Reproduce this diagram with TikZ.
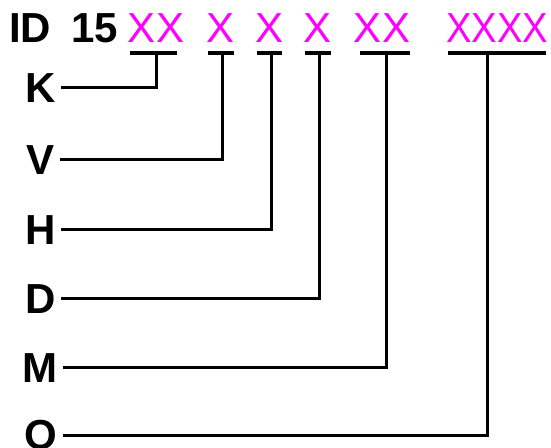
\documentclass[tikz,border=0pt]{standalone}
\usepackage{fontspec}
\setmainfont{Liberation Sans}
\usepackage{xcolor}
\definecolor{vpink}{RGB}{255,0,255}
\tikzset{
  codepart/.style={inner sep=0pt,anchor=base,text=vpink,font=\fontsize{42}{48}\selectfont},
  headtxt/.style={inner sep=0pt,anchor=base west,font=\fontsize{42}{48}\selectfont\bfseries},
  fieldlbl/.style={inner sep=5pt,font=\fontsize{42}{48}\selectfont\bfseries},
  uline/.style={line width=3.4pt},
  wire/.style={line width=3pt}
}
\begin{document}
\begin{tikzpicture}[x=1pt,y=1pt]
    \useasboundingbox (0,0) rectangle (551,447);
    % header
    \node[headtxt] (id) at (9,404) {ID};
    \node[headtxt] (nr) at (71,404) {15};
    \node[codepart] (c1) at (156,404) {XX};
    \node[codepart] (c2) at (221,404) {X};
    \node[codepart] (c3) at (270,404) {X};
    \node[codepart] (c4) at (318,404) {X};
    \node[codepart] (c5) at (382,404) {XX};
    \node[codepart] (c6) at (497,404) {\scalebox{0.91}[1]{XXXX}};
    % underlines and stem tops
    \draw[uline] (130,394) -- (177,394); \coordinate (t1) at (156,394);
    \draw[uline] (208,394) -- (234,394); \coordinate (t2) at (222,394);
    \draw[uline] (257,394) -- (282,394); \coordinate (t3) at (271,394);
    \draw[uline] (305,394) -- (331,394); \coordinate (t4) at (319,394);
    \draw[uline] (360,394) -- (410,394); \coordinate (t5) at (386,394);
    \draw[uline] (448,394) -- (546,394); \coordinate (t6) at (487,394);
    % field letters
    \node[fieldlbl] (k) at (41,359) {K};
    \node[fieldlbl] (v) at (41,287) {V};
    \node[fieldlbl] (h) at (41,217) {H};
    \node[fieldlbl] (d) at (41,148) {D};
    \node[fieldlbl] (m) at (40,79) {M};
    \node[fieldlbl] (o) at (41,12) {O};
    % connectors
    \draw[wire] (k.east) -| (t1);
    \draw[wire] (v.east) -| (t2);
    \draw[wire] (h.east) -| (t3);
    \draw[wire] (d.east) -| (t4);
    \draw[wire] (m.east) -| (t5);
    \draw[wire] (o.east) -| (t6);
\end{tikzpicture}
\end{document}
